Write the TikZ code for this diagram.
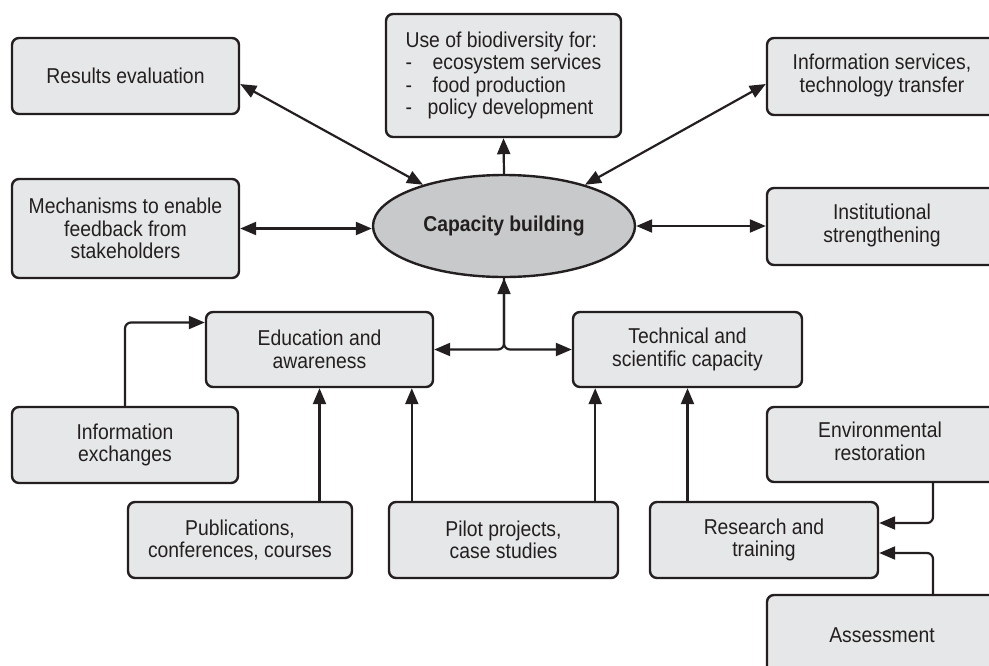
\documentclass[tikz,border=0pt]{standalone}
\usepackage{fontspec}
\setmainfont{Liberation Sans}[FakeStretch=0.9]
\usetikzlibrary{arrows.meta,shapes.geometric}
\definecolor{boxfill}{HTML}{E6E7E8}
\definecolor{ellfill}{HTML}{C8C9CA}
\definecolor{linecol}{HTML}{231F20}

\begin{document}
\begin{tikzpicture}[x=1pt,y=-1pt,
		every node/.style={font=\fontsize{21.5}{22.5}\selectfont, text=linecol},
		cutbox/.style={draw=linecol, fill=boxfill, line width=2.4pt, rounded corners=7pt, inner sep=0pt},
		box/.style={cutbox, align=center},
		arr/.style={draw=linecol, line width=2.2pt, -{Triangle[length=16pt,width=13pt]}},
		darr/.style={arr, {Triangle[length=16pt,width=13pt]}-{Triangle[length=16pt,width=13pt]}}]
		\useasboundingbox (0,0) rectangle (989,665);
		\clip (0,0) rectangle (989,665);

		% top row
		\node[box, minimum width=227pt, minimum height=76pt] (reseval) at (125.5,76) {Results evaluation};
		\node[box, minimum width=235pt, minimum height=123pt, align=left] (biouse) at (503.5,75.5)
			{Use of biodiversity for:\\\makebox[27pt][l]{-}ecosystem services\\\makebox[27pt][l]{-}food production\\\makebox[22pt][l]{-}policy development};
		% boxes cut by the right edge: text padded to stay centred on the visible part
		\node[cutbox, minimum width=270pt, minimum height=77pt] (infoserv) at (902,76.5)
			{\begin{tabular}{@{}c@{}}Information services,\\technology transfer\end{tabular}\hspace*{40pt}};

		% middle row
		\node[box, minimum width=227pt, minimum height=99pt] (feedback) at (125.5,228.5) {Mechanisms to enable\\feedback from\\stakeholders};
		\node[ellipse, draw=linecol, fill=ellfill, line width=2.4pt, minimum width=262pt, minimum height=102pt, inner sep=0pt] (capacity) at (504,226) {\textbf{Capacity building}};
		\node[cutbox, minimum width=270pt, minimum height=77pt] (instit) at (902,226.5)
			{\begin{tabular}{@{}c@{}}Institutional\\strengthening\end{tabular}\hspace*{40pt}};

		\node[box, minimum width=227pt, minimum height=75pt] (educ) at (319.5,349.5) {Education and\\awareness};
		\node[box, minimum width=229pt, minimum height=75pt] (techsci) at (687.5,349.5) {Technical and\\scientific capacity};

		% bottom rows
		\node[box, minimum width=226pt, minimum height=76pt] (infoex) at (125,445) {Information\\exchanges};
		\node[cutbox, minimum width=270pt, minimum height=75pt] (envrest) at (902,444.5)
			{\begin{tabular}{@{}c@{}}Environmental\\restoration\end{tabular}\hspace*{44pt}};
		\node[box, minimum width=224pt, minimum height=76pt] (publ) at (240,540) {Publications,\\conferences, courses};
		\node[box, minimum width=229pt, minimum height=76pt] (pilot) at (503.5,540) {Pilot projects,\\case studies};
		\node[box, minimum width=228pt, minimum height=76pt] (research) at (764,540) {Research and\\training};
		\node[cutbox, minimum width=270pt, minimum height=90pt] (assess) at (902,640)
			{\raisebox{10pt}{Assessment}\hspace*{40pt}};

		% links to the centre
		\draw[darr] (reseval.-4) -- (capacity.153);
		\draw[arr] (capacity.north) -- (biouse.south);
		\draw[darr] (infoserv.west |- 0,84) -- (capacity.27);
		\draw[darr] (feedback.east) -- (feedback.east -| capacity.west);
		\draw[darr] (capacity.east) -- (capacity.east -| instit.west);
		\draw[darr, rounded corners=6pt] (educ.east) -| (capacity.south);
		\draw[arr, rounded corners=6pt] (capacity.south) |- (techsci.west);

		% feeding links
		\draw[arr, rounded corners=6pt] (infoex.north) |- ([yshift=27pt]educ.west);
		\draw[arr] (educ.south |- publ.north) -- (educ.south);
		\draw[arr] ([xshift=24pt]pilot.north west) -- ([xshift=24pt]pilot.north west |- educ.south);
		\draw[arr] ([xshift=-24pt]pilot.north east) -- ([xshift=-24pt]pilot.north east |- techsci.south);
		\draw[arr] (techsci.south |- research.north) -- (techsci.south);
		\draw[arr, rounded corners=6pt] (envrest.south -| 933,0) |- ([yshift=17pt]research.east);
		\draw[arr, rounded corners=6pt] (assess.north -| 933,0) |- ([yshift=-13pt]research.east);
	\end{tikzpicture}
\end{document}
